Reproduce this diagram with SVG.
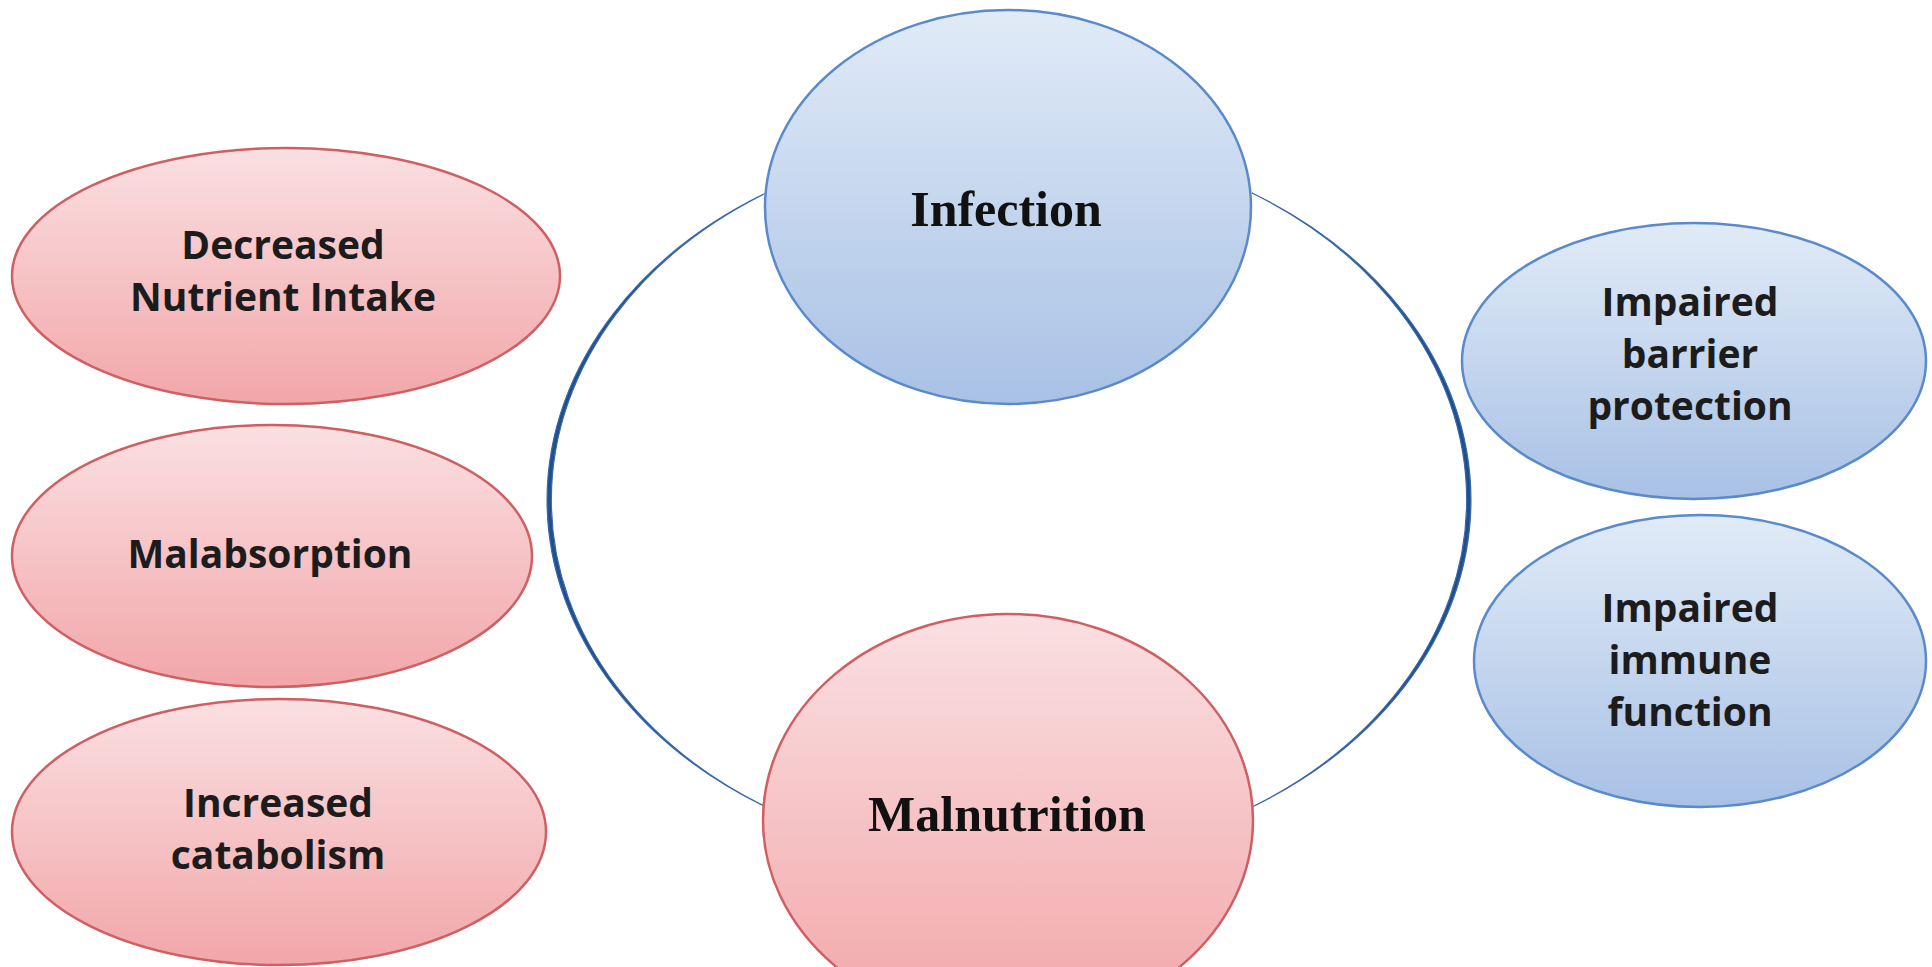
<svg xmlns="http://www.w3.org/2000/svg" width="1932" height="967" viewBox="0 0 1932 967">
<defs>
<linearGradient id="pink" x1="0" y1="0" x2="0" y2="1">
<stop offset="0" stop-color="#fae0e2"/>
<stop offset="1" stop-color="#f2a6a9"/>
</linearGradient>
<linearGradient id="blue" x1="0" y1="0" x2="0" y2="1">
<stop offset="0" stop-color="#e1ebf7"/>
<stop offset="1" stop-color="#a8c1e5"/>
</linearGradient>
</defs>
<style>
.pk{fill:url(#pink);stroke:#cf5f62;stroke-width:2.5}
.bl{fill:url(#blue);stroke:#5a8acb;stroke-width:2.5}
.sm{font-family:"Open Sans",Lato,sans-serif;font-weight:bold;font-size:39px;fill:#1c1c1c;text-anchor:middle}
.bg{font-family:"Liberation Serif","Times New Roman",serif;font-weight:bold;font-size:50px;fill:#111;text-anchor:middle}
.arc{fill:#1f4f8f;stroke:#3a68a8;stroke-width:1.2}
</style>
<rect width="1932" height="967" fill="#ffffff"/>
<g id="connectors">
<path class="arc" d="M 766,193 A 462 361 0 0 0 766,807 A 453 361 0 0 1 766,193 Z"/>
<path class="arc" d="M 1252,193 A 462 361 0 0 1 1252,807 A 453 361 0 0 0 1252,193 Z"/>
</g>
<g id="infection">
<ellipse class="bl" cx="1008" cy="207" rx="243" ry="197"/>
<text class="bg" x="1006" y="226">Infection</text>
</g>
<g id="malnutrition">
<ellipse class="pk" cx="1008" cy="820" rx="245" ry="206"/>
<text class="bg" x="1007" y="831">Malnutrition</text>
</g>
<g id="decreased-nutrient-intake">
<ellipse class="pk" cx="286" cy="276" rx="274" ry="128"/>
<text class="sm" x="283" y="259">Decreased</text>
<text class="sm" x="283" y="311">Nutrient Intake</text>
</g>
<g id="malabsorption">
<ellipse class="pk" cx="272" cy="556" rx="260" ry="131"/>
<text class="sm" x="270" y="568">Malabsorption</text>
</g>
<g id="increased-catabolism">
<ellipse class="pk" cx="279" cy="832" rx="267" ry="133"/>
<text class="sm" x="278" y="817">Increased</text>
<text class="sm" x="278" y="869">catabolism</text>
</g>
<g id="impaired-barrier-protection">
<ellipse class="bl" cx="1694" cy="361" rx="232" ry="138"/>
<text class="sm" x="1690" y="316">Impaired</text>
<text class="sm" x="1690" y="368">barrier</text>
<text class="sm" x="1690" y="420">protection</text>
</g>
<g id="impaired-immune-function">
<ellipse class="bl" cx="1700" cy="661" rx="226" ry="146"/>
<text class="sm" x="1690" y="622">Impaired</text>
<text class="sm" x="1690" y="674">immune</text>
<text class="sm" x="1690" y="726">function</text>
</g>
</svg>
